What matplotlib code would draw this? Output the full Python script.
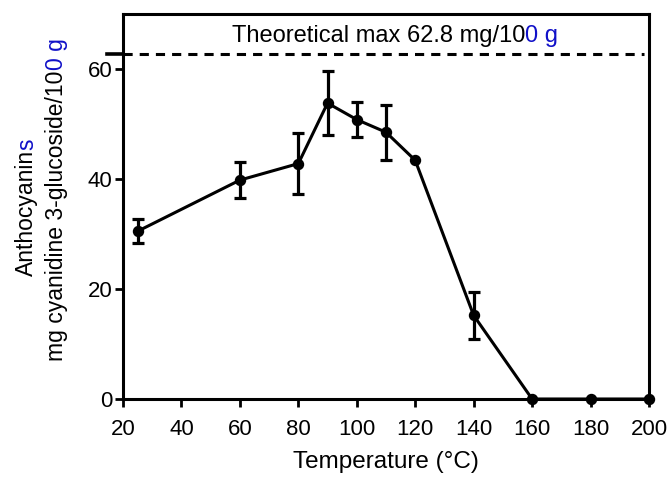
import matplotlib
matplotlib.use("Agg")
import matplotlib.pyplot as plt
from matplotlib.lines import Line2D

plt.rcParams['font.family'] = ['Liberation Sans', 'DejaVu Sans']

temperature = [25, 60, 80, 90, 100, 110, 120, 140, 160, 180, 200]
anthocyanins = [30.5, 39.8, 42.8, 53.8, 50.8, 48.5, 43.4, 15.2, 0, 0, 0]
errors = [2.2, 3.3, 5.5, 5.8, 3.2, 5.0, 0, 4.2, 0, 0, 0]
theoretical_max = 62.8
x_ticks = [20, 40, 60, 80, 100, 120, 140, 160, 180, 200]
y_ticks = [0, 20, 40, 60]

W, H = 672, 478
fig = plt.figure(figsize=(W / 100, H / 100), dpi=100)
ax = fig.add_axes([123 / W, 1 - 399 / H, (649 - 123) / W, (399 - 14) / H])

ax.plot(temperature, anthocyanins, color='black', lw=2.2, marker='o', ms=7.2,
        clip_on=False, zorder=5)
ex = [t for t, e in zip(temperature, errors) if e > 0]
ey = [a for a, e in zip(anthocyanins, errors) if e > 0]
ee = [e for e in errors if e > 0]
ax.errorbar(ex, ey, yerr=ee, fmt='none', ecolor='black', elinewidth=2.3,
            capsize=4.0, capthick=2.3, zorder=6)

ax.set_xlim(20, 200)
ax.set_ylim(0, 70)
ax.set_xticks(x_ticks)
ax.set_yticks(y_ticks)
for s in ['left', 'right', 'top', 'bottom']:
    ax.spines[s].set_linewidth(2.2)
ax.tick_params(direction='out', length=6, width=2.0, labelsize=16)
ax.tick_params(axis='x', pad=8.5)
ax.tick_params(axis='y', pad=1.5)

# theoretical max line
ax.axhline(theoretical_max, color='black', lw=2.2, dashes=(3.0, 2.3), xmin=0, xmax=0.99)
seg = Line2D([-16 / (649 - 123), 0], [theoretical_max, theoretical_max],
             transform=ax.get_yaxis_transform(), color='black', lw=2.6, clip_on=False)
ax.add_line(seg)

ax.set_xlabel('Temperature (°C)', fontsize=17.5, labelpad=7.5)

fig.canvas.draw()
renderer = fig.canvas.get_renderer()

def width_px(s, size):
    t = fig.text(0, 0, s, fontsize=size)
    w, h, d = renderer.get_text_width_height_descent(s, t._fontproperties, ismath=False)
    t.remove()
    return w

blue = '#1010c8'
# title pieces
fs_t = 17
x0, yb = 232, 42
p1 = 'Theoretical max 62.8 mg/10'
fig.text(x0 / W, 1 - yb / H, p1, fontsize=fs_t, ha='left', va='baseline', color='black')
fig.text((x0 + width_px(p1, fs_t)) / W, 1 - yb / H, '0 g', fontsize=fs_t, ha='left',
         va='baseline', color=blue)

# y label pieces
fs_y = 16.5
def vtext(xb, ycenter, parts):
    total = sum(width_px(s, fs_y) for s, _ in parts)
    y = ycenter + total / 2
    for s, c in parts:
        fig.text(xb / W, 1 - y / H, s, fontsize=fs_y, rotation=90, rotation_mode='anchor',
                 ha='left', va='baseline', color=c)
        y -= width_px(s, fs_y)

vtext(33, 207.5, [('Anthocyanin', 'black'), ('s', blue)])
vtext(63, 199.5, [('mg cyanidine 3-glucoside/10', 'black'), ('0 g', blue)])

fig.savefig('out.png', dpi=100)
